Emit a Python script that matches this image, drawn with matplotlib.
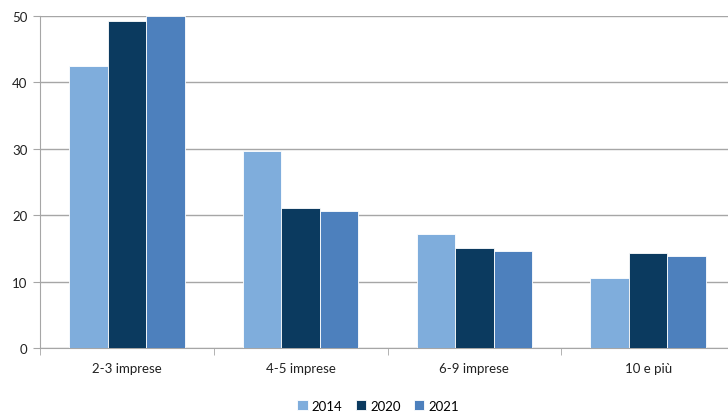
import numpy as np
import matplotlib.pyplot as plt

categories = ["2-3 imprese", "4-5 imprese", "6-9 imprese", "10 e più"]
years = ["2014", "2020", "2021"]
v2014 = [42.4, 29.7, 17.1, 10.5]
v2020 = [49.2, 21.1, 15.0, 14.3]
v2021 = [50.0, 20.7, 14.6, 13.9]
colors = ["#7FADDC", "#0B3A5F", "#4D80BD"]

plt.rcParams['font.family'] = ['Lato', 'DejaVu Sans']

fig = plt.figure(figsize=(7.28, 4.14), dpi=100)
ax = fig.add_axes([40 / 728, 65 / 414, 695 / 728, 332 / 414])

x = np.arange(len(categories))
w = 0.222
for i, (vals, col, lab) in enumerate(zip([v2014, v2020, v2021], colors, years)):
    ax.bar(x + (i - 1) * w, vals, w, color=col, edgecolor="white", linewidth=0.6,
           label=lab, zorder=3)

ax.set_xlim(-0.5, len(categories) - 0.5)
ax.set_ylim(0, 50)
ax.set_yticks(range(0, 51, 10))
ax.yaxis.grid(True, color="#A6A6A6", linewidth=1, zorder=0)
ax.set_xticks(x)
ax.set_xticklabels(categories)
ax.set_xticks(np.arange(-0.5, len(categories), 1), minor=True)
ax.tick_params(axis="x", which="major", length=0, pad=10, labelsize=9.5, colors="#222222")
ax.tick_params(axis="x", which="minor", length=5, color="#A6A6A6", direction="out")
ax.tick_params(axis="y", length=5, color="#A6A6A6", labelsize=9.5, colors="#222222", pad=4)
ax.tick_params(axis="y", colors="#A6A6A6", labelcolor="#222222")
for s in ["top", "right"]:
    ax.spines[s].set_visible(False)
for s in ["left", "bottom"]:
    ax.spines[s].set_color("#A6A6A6")
ax.set_axisbelow(True)

ax.legend(loc="lower center", bbox_to_anchor=(378 / 728, 0.0), bbox_transform=fig.transFigure,
          ncol=3, frameon=False, fontsize=9.5, handlelength=0.8, handleheight=0.8,
          handletextpad=0.3, columnspacing=1.0, borderaxespad=0.0, borderpad=0.1)

fig.savefig("out.png", dpi=100)
